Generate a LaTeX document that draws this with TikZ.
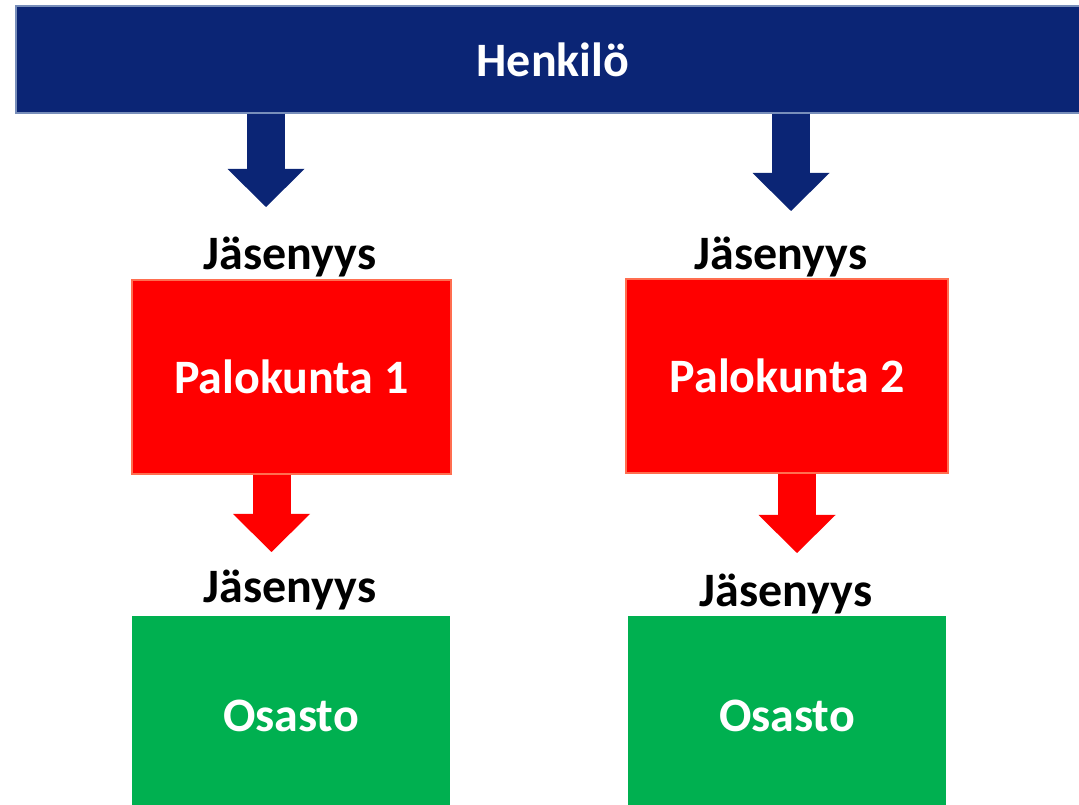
\documentclass[tikz,border=0pt]{standalone}
\usepackage{fontspec}
\setmainfont{Carlito}
\usetikzlibrary{arrows.meta}
\definecolor{navy}{RGB}{11,37,117}
\definecolor{navyedge}{RGB}{120,142,186}
\definecolor{fire}{RGB}{255,0,0}
\definecolor{fireedge}{RGB}{255,110,80}
\definecolor{unitgreen}{RGB}{0,176,80}
\tikzset{
    bigtext/.style={font=\fontsize{48}{52}\selectfont\bfseries},
    box/.style={bigtext, text=white, minimum width=#1, minimum height=194pt, inner sep=0pt},
    label/.style={bigtext, text=black, inner sep=0pt},
    blockarrow/.style={line width=38pt, draw=#1, -{Triangle[length=38pt,width=77pt,line width=0pt]}}
}
\begin{document}
\begin{tikzpicture}[x=1pt,y=1pt]
    \useasboundingbox (0,0) rectangle (1079,804);
    % top bar
    \node[box=1074pt, minimum height=107pt, fill=navy, draw=navyedge, line width=1.5pt] (henkilo) at (553,744.5) {Henkilö};
    \begin{scope}
        \node[label] (jas1) at (290,547) {Jäsenyys};
        \node[box=319pt, fill=fire, draw=fireedge, line width=1.5pt] (palo1) at (291.5,427) {Palokunta 1};
        \node[label] (jas3) at (290,214) {Jäsenyys};
        \node[box=318pt, minimum height=200pt, fill=unitgreen] (osasto1) at (291,88) {Osasto};
    \end{scope}
    \begin{scope}
        \node[label] (jas2) at (781,547) {Jäsenyys};
        \node[box=322pt, fill=fire, draw=fireedge, line width=1.5pt] (palo2) at (787,428) {Palokunta 2};
        \node[label] (jas4) at (786,210) {Jäsenyys};
        \node[box=318pt, minimum height=200pt, fill=unitgreen] (osasto2) at (787,88) {Osasto};
    \end{scope}
    \coordinate (t1) at (266,597);
    \coordinate (t2) at (791,593);
    \coordinate (t3) at (271.5,252);
    \coordinate (t4) at (797,251);
    \draw[blockarrow=navy] (henkilo.south -| t1) -- (t1);
    \draw[blockarrow=navy] (henkilo.south -| t2) -- (t2);
    \draw[blockarrow=fire] (palo1.south -| t3) -- (t3);
    \draw[blockarrow=fire] (palo2.south -| t4) -- (t4);
\end{tikzpicture}
\end{document}
